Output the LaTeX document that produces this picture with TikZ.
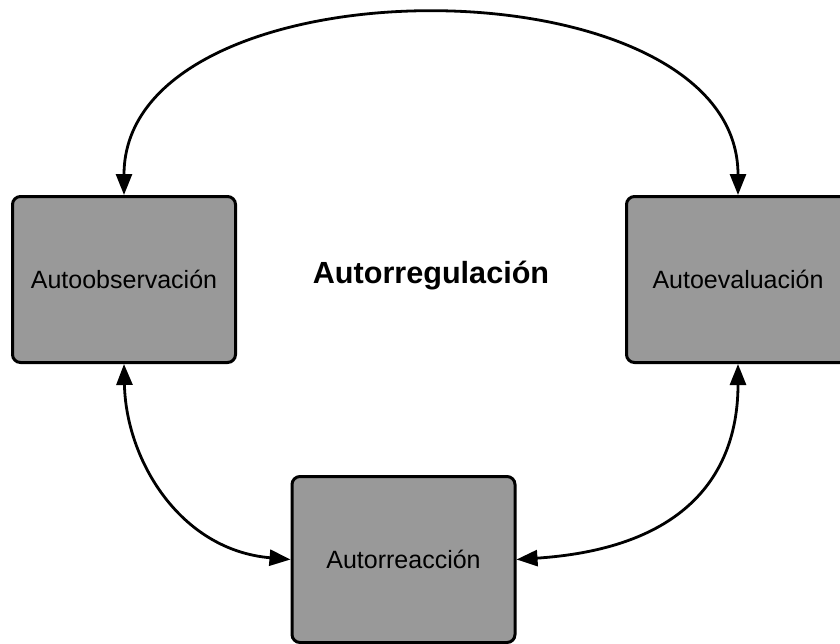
\documentclass[tikz,border=0pt]{standalone}
\usepackage{fontspec}
\setmainfont{Liberation Sans}
\usetikzlibrary{arrows.meta}
\begin{document}
\begin{tikzpicture}[x=0.5pt,y=-0.5pt,
  box/.style={draw=black, line width=1.5pt, fill=boxgray, rounded corners=4pt,
    minimum width=111.5pt, minimum height=83pt, inner sep=0pt,
    font=\fontsize{12.5}{14}\selectfont},
  link/.style={line width=1.4pt, {Triangle[length=10.5pt,width=8pt]}-{Triangle[length=10.5pt,width=8pt]}}]
\definecolor{boxgray}{HTML}{999999}
\useasboundingbox (0,0) rectangle (840,643);
\node[box] (L) at (124,279.5) {Autoobservación};
\node[box] (R) at (738,279.5) {Autoevaluación};
\node[box] (B) at (403.5,559.5) {Autorreacción};
\node[font=\bfseries\fontsize{15.3}{18}\selectfont] (T) at (431,276) {Autorregulación};
\draw[link] (L.north) .. controls (124,-44) and (738,-44) .. (R.north);
\draw[link] (L.south) .. controls (126,460) and (180,550) .. (B.west);
\draw[link] (R.south) .. controls (738,470) and (690,548) .. (B.east);
\end{tikzpicture}
\end{document}
